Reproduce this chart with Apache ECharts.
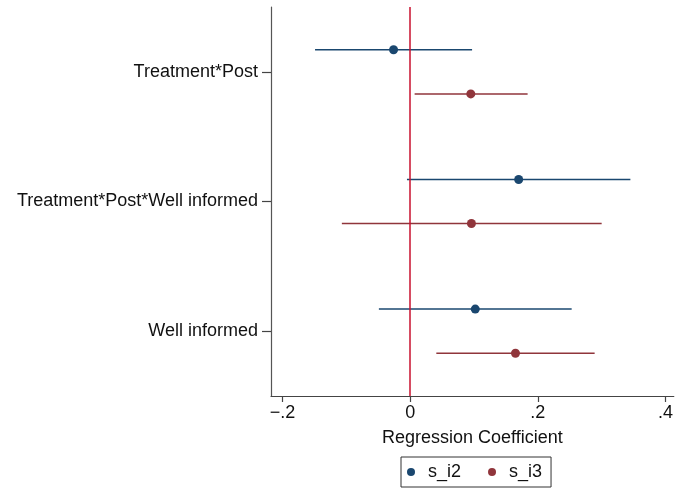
<!DOCTYPE html>
<html>
<head>
<meta charset="utf-8">
<script src="https://cdn.jsdelivr.net/npm/echarts@6/dist/echarts.min.js"></script>
<style>
html,body{margin:0;padding:0;background:#fff;}
#chart{width:676px;height:491px;}
</style>
</head>
<body>
<div id="chart"></div>
<script>
const categories = ['Treatment*Post', 'Treatment*Post*Well informed', 'Well informed'];
const seriesNames = ['s_i2', 's_i3'];
const s_i2_coef = [-0.026, 0.170, 0.102];
const s_i2_low  = [-0.149, -0.005, -0.049];
const s_i2_high = [0.097, 0.345, 0.253];
const s_i3_coef = [0.095, 0.096, 0.165];
const s_i3_low  = [0.007, -0.107, 0.041];
const s_i3_high = [0.184, 0.300, 0.289];
const xTicks = [-0.2, 0, 0.2, 0.4];
const xTickLabels = ['\u2212.2', '0', '.2', '.4'];

const FONT = "'Liberation Sans', Arial, Helvetica, sans-serif";
const colors = ['#1a476f', '#90353b'];
const offsets = [-0.17, 0.17];
const coefs = [s_i2_coef, s_i3_coef];
const lows = [s_i2_low, s_i3_low];
const highs = [s_i2_high, s_i3_high];

const series = [];
seriesNames.forEach((name, k) => {
  series.push({
    name: name + '_ci',
    type: 'custom',
    xAxisIndex: 0,
    yAxisIndex: 1,
    encode: { x: [1, 2], y: 0 },
    data: categories.map((c, i) => [i + offsets[k], lows[k][i], highs[k][i]]),
    renderItem: function (params, api) {
      const y = api.value(0);
      const a = api.coord([api.value(1), y]);
      const b = api.coord([api.value(2), y]);
      return {
        type: 'line',
        shape: { x1: a[0], y1: a[1], x2: b[0], y2: b[1] },
        style: { stroke: colors[k], lineWidth: 1.5 }
      };
    },
    silent: true,
    z: 2
  });
});
seriesNames.forEach((name, k) => {
  const s = {
    name: name,
    type: 'scatter',
    xAxisIndex: 0,
    yAxisIndex: 1,
    symbol: 'circle',
    symbolSize: 9,
    itemStyle: { color: colors[k], opacity: 1 },
    data: categories.map((c, i) => [coefs[k][i], i + offsets[k]]),
    z: 4
  };
  if (k === 0) {
    s.markLine = {
      silent: true,
      symbol: 'none',
      label: { show: false },
      lineStyle: { color: '#c8102e', width: 1.5, type: 'solid' },
      data: [{ xAxis: 0 }],
      z: 3
    };
  }
  series.push(s);
});

const chart = echarts.init(document.getElementById('chart'), null, { renderer: 'canvas' });
chart.setOption({
  animation: false,
  backgroundColor: '#fff',
  textStyle: { fontFamily: FONT },
  grid: { left: 271, top: 7, width: 405, height: 389, containLabel: false },
  xAxis: {
    type: 'value',
    min: -0.218,
    max: 0.413,
    name: 'Regression Coefficient',
    nameLocation: 'middle',
    nameGap: 33,
    nameTextStyle: { fontSize: 18, color: '#111', fontFamily: FONT },
    splitLine: { show: false },
    axisLine: { show: true, onZero: false, lineStyle: { color: '#444', width: 1.2 } },
    axisTick: { show: true, length: 6, customValues: xTicks, lineStyle: { color: '#444', width: 1.2 } },
    axisLabel: {
      customValues: xTicks,
      fontSize: 18, color: '#111', fontFamily: FONT, margin: 8,
      formatter: function (v) {
        const idx = xTicks.findIndex(t => Math.abs(t - v) < 1e-9);
        return idx >= 0 ? xTickLabels[idx] : '';
      }
    }
  },
  yAxis: [{
    type: 'category',
    data: categories,
    inverse: true,
    axisLine: { show: true, onZero: false, lineStyle: { color: '#555', width: 1.2 } },
    axisTick: { show: true, alignWithLabel: true, length: 9, lineStyle: { color: '#444', width: 1.2 } },
    axisLabel: { fontSize: 18, color: '#111', fontFamily: FONT, margin: 13 },
    splitLine: { show: false }
  }, {
    type: 'value',
    min: -0.5,
    max: 2.5,
    inverse: true,
    show: false,
    axisLine: { onZero: false },
    splitLine: { show: false }
  }],
  legend: {
    data: seriesNames.map(n => ({ name: n, icon: 'circle' })),
    left: 401,
    top: 457,
    orient: 'horizontal',
    itemWidth: 8,
    itemHeight: 8,
    itemGap: 27,
    padding: [6, 9, 6, 6],
    borderColor: '#333',
    borderWidth: 1,
    textStyle: { fontSize: 18, color: '#111', fontFamily: FONT, padding: [0, 0, 0, 8] }
  },
  series: series
});
</script>
</body>
</html>
